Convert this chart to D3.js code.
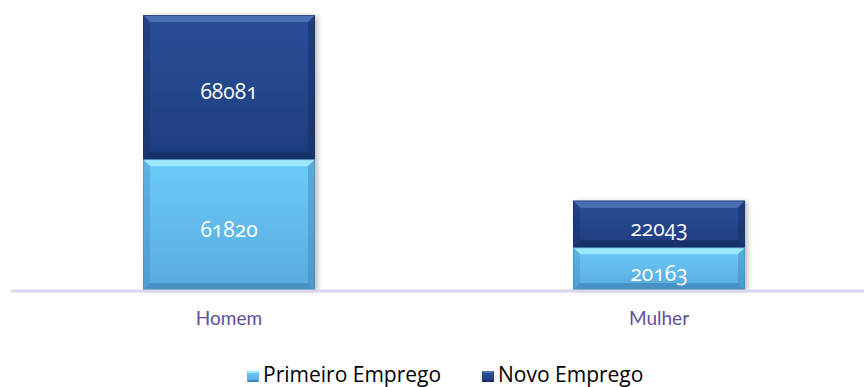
<!DOCTYPE html>
<html>
<head>
<meta charset="utf-8">
<script src="https://cdn.jsdelivr.net/npm/d3@7"></script>
<style>
  html, body { margin: 0; padding: 0; background: #fff; }
  svg { display: block; }
</style>
</head>
<body>
<svg id="chart" width="864" height="387"></svg>
<script>
// Employment type by sex (stacked)
const categories = ["Homem", "Mulher"];
const seriesNames = ["Primeiro Emprego", "Novo Emprego"];
const primeiroEmprego = [61820, 20163];
const novoEmprego = [68081, 22043];

const svg = d3.select("#chart");
const defs = svg.append("defs");

const palette = {
  "Primeiro Emprego": { top: "#6cccf8", bottom: "#58aadd", edge: "#3f86b8", light: "#a8ecff" },
  "Novo Emprego":     { top: "#2a4f98", bottom: "#1e3d7d", edge: "#152c5e", light: "#4f74b8" }
};

seriesNames.forEach((s, i) => {
  const g = defs.append("linearGradient").attr("id", "grad" + i)
    .attr("x1", 0).attr("y1", 0).attr("x2", 0).attr("y2", 1);
  g.append("stop").attr("offset", "0%").attr("stop-color", palette[s].top);
  g.append("stop").attr("offset", "100%").attr("stop-color", palette[s].bottom);
});

const shadow = defs.append("filter").attr("id", "shadow")
  .attr("x", "-10%").attr("y", "-10%").attr("width", "130%").attr("height", "130%");
shadow.append("feGaussianBlur").attr("in", "SourceAlpha").attr("stdDeviation", 2.5);
shadow.append("feOffset").attr("dx", 3).attr("dy", 1).attr("result", "b");
shadow.append("feComponentTransfer").append("feFuncA").attr("type", "linear").attr("slope", 0.25);
const merge = shadow.append("feMerge");
merge.append("feMergeNode");
merge.append("feMergeNode").attr("in", "SourceGraphic");

const x = d3.scaleBand().domain(categories).range([14, 874])
  .paddingInner(0.6).paddingOuter(0.3);
const y = d3.scaleLinear().domain([0, 129901]).range([290, 15]);

const rows = categories.map((c, i) => ({
  cat: c, "Primeiro Emprego": primeiroEmprego[i], "Novo Emprego": novoEmprego[i]
}));
const stacked = d3.stack().keys(seriesNames)(rows);

// bevelled rectangle helper
function bevel(g, x0, y0, w, h, col, fillId) {
  const b = Math.min(7, h / 4);
  g.append("rect").attr("x", x0).attr("y", y0).attr("width", w).attr("height", h)
    .attr("fill", `url(#${fillId})`);
  const x1 = x0 + w, y1 = y0 + h;
  const poly = (pts, fill, op) => g.append("polygon")
    .attr("points", pts.map(p => p.join(",")).join(" "))
    .attr("fill", fill).attr("opacity", op);
  poly([[x0, y0], [x1, y0], [x1 - b, y0 + b], [x0 + b, y0 + b]], col.light, 0.85);
  poly([[x0, y0], [x0 + b, y0 + b], [x0 + b, y1 - b], [x0, y1]], col.edge, 0.35);
  poly([[x1, y0], [x1, y1], [x1 - b, y1 - b], [x1 - b, y0 + b]], col.edge, 0.45);
  poly([[x0, y1], [x0 + b, y1 - b], [x1 - b, y1 - b], [x1, y1]], col.edge, 0.7);
  g.append("rect").attr("x", x0 + 0.5).attr("y", y0 + 0.5).attr("width", w - 1).attr("height", h - 1)
    .attr("fill", "none").attr("stroke", col.edge).attr("stroke-opacity", 0.5);
}

const barsG = svg.append("g").attr("filter", "url(#shadow)");
stacked.forEach((layer, li) => {
  const col = palette[layer.key];
  layer.forEach((d, ci) => {
    const cat = categories[ci];
    const yTop = y(d[1]), yBot = y(d[0]);
    bevel(barsG.append("g"), x(cat), yTop, x.bandwidth(), yBot - yTop, col, "grad" + li);
  });
});

// value labels
stacked.forEach(layer => {
  layer.forEach((d, ci) => {
    const cat = categories[ci];
    svg.append("text")
      .attr("x", x(cat) + x.bandwidth() / 2)
      .attr("y", (y(d[0]) + y(d[1])) / 2 + 12)
      .attr("text-anchor", "middle")
      .attr("fill", "#ffffff")
      .style("font-family", "'Open Sans', sans-serif")
      .style("font-weight", "400")
      .style("font-size", "21px")
      .style("font-variant-numeric", "oldstyle-nums")
      .text(d[1] - d[0]);
  });
});

// baseline
svg.append("line").attr("x1", 11).attr("x2", 864).attr("y1", 291).attr("y2", 291)
  .attr("stroke", "#d9d6ee").attr("stroke-width", 3);

// category labels
const xAxis = d3.axisBottom(x).tickSize(0).tickPadding(0);
const axG = svg.append("g").attr("transform", "translate(0,318)").call(xAxis);
axG.select(".domain").remove();
axG.selectAll("text")
  .attr("dy", "0.35em")
  .attr("fill", "#5e4f9c")
  .style("font-family", "Lato, 'Open Sans', sans-serif")
  .style("font-size", "19px");

// legend
const legend = svg.append("g");
const legendX = [247, 482];
seriesNames.forEach((s, i) => {
  const g = legend.append("g").attr("transform", `translate(${legendX[i]},371)`);
  const col = palette[s];
  const b = 2;
  g.append("rect").attr("width", 12).attr("height", 11).attr("fill", `url(#grad${i})`);
  g.append("polygon").attr("points", `0,0 12,0 ${12 - b},${b} ${b},${b}`).attr("fill", col.light);
  g.append("polygon").attr("points", `0,11 ${b},${11 - b} ${12 - b},${11 - b} 12,11`).attr("fill", col.edge);
  g.append("text").attr("x", 16).attr("y", 11)
    .attr("fill", "#000")
    .style("font-family", "'Open Sans', sans-serif")
    .style("font-size", "21px")
    .text(s);
});
</script>
</body>
</html>
